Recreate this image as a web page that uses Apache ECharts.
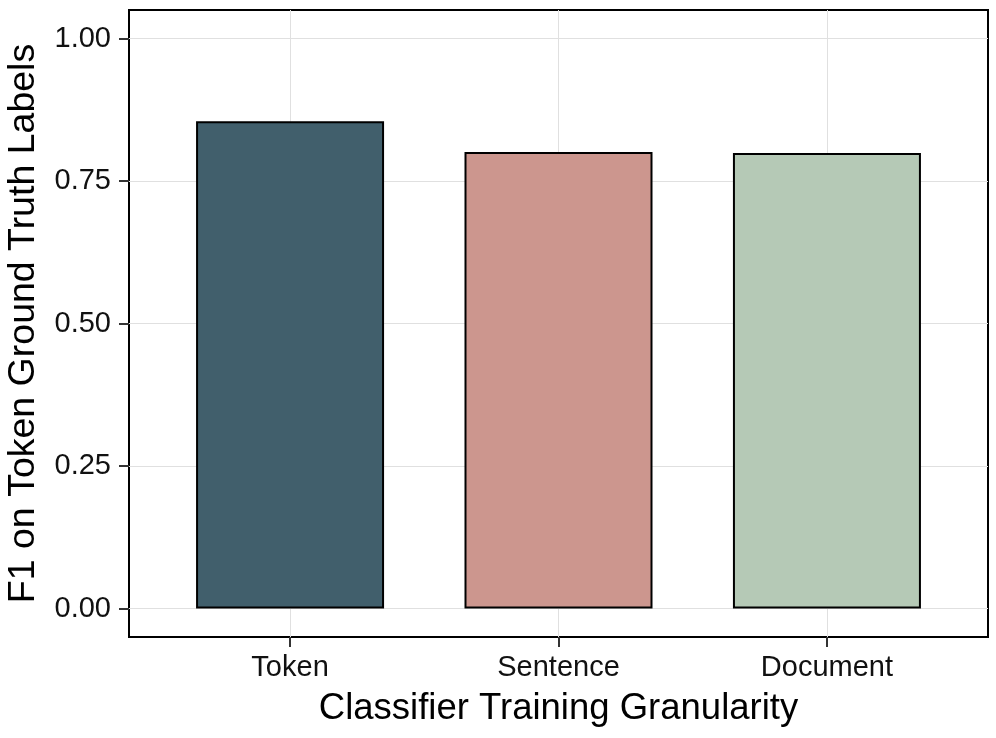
<!DOCTYPE html>
<html><head><meta charset="utf-8">
<script src="https://cdn.jsdelivr.net/npm/echarts@6/dist/echarts.min.js"></script>
<style>html,body{margin:0;padding:0;background:#fff}#c{width:996px;height:738px}</style>
</head><body><div id="c"></div>
<script>
const categories = ['Token', 'Sentence', 'Document'];
const values = [0.855, 0.801, 0.799];
const colors = ['#415f6c', '#cc968e', '#b5c9b6'];
const yTicks = [0, 0.25, 0.5, 0.75, 1.0];
const positions = [1, 2, 3];

const chart = echarts.init(document.getElementById('c'), null, {renderer: 'canvas'});
const font = 'Helvetica, "Liberation Sans", Arial, sans-serif';
chart.setOption({
  animation: false,
  backgroundColor: '#fff',
  grid: {left: 129, right: 8, top: 10, bottom: 101, outerBoundsMode: 'none', containLabel: false,
         show: true, borderColor: '#000', borderWidth: 2, backgroundColor: 'transparent'},
  xAxis: {
    type: 'value', min: 0.4, max: 3.6,
    name: 'Classifier Training Granularity', nameLocation: 'middle', nameGap: 53,
    nameTextStyle: {fontSize: 36.5, color: '#000', fontFamily: font},
    axisLine: {show: false, onZero: false},
    axisTick: {show: true, customValues: positions, length: 10, lineStyle: {color: '#333', width: 2}},
    axisLabel: {customValues: positions, formatter: v => categories[Math.round(v) - 1] || '', fontSize: 29, color: '#111', margin: 16, fontFamily: font},
    splitLine: {show: true, lineStyle: {color: '#e0e0e0', width: 1}}
  },
  yAxis: {
    type: 'value', min: -0.05, max: 1.05,
    name: 'F1 on Token Ground Truth Labels', nameLocation: 'middle', nameGap: 86,
    nameTextStyle: {fontSize: 37.5, color: '#000', fontFamily: font},
    axisLine: {show: false, onZero: false},
    axisTick: {show: true, customValues: yTicks, length: 10, lineStyle: {color: '#333', width: 2}},
    axisLabel: {customValues: yTicks, formatter: v => v.toFixed(2), fontSize: 29, color: '#111', margin: 18, fontFamily: font},
    splitLine: {show: true, lineStyle: {color: '#e0e0e0', width: 1}}
  },
  series: [{
    type: 'bar',
    barWidth: 188,
    data: values.map((v, i) => ({value: [positions[i], v], itemStyle: {color: colors[i]}})),
    itemStyle: {borderColor: '#000', borderWidth: 2}
  }]
});
</script></body></html>
